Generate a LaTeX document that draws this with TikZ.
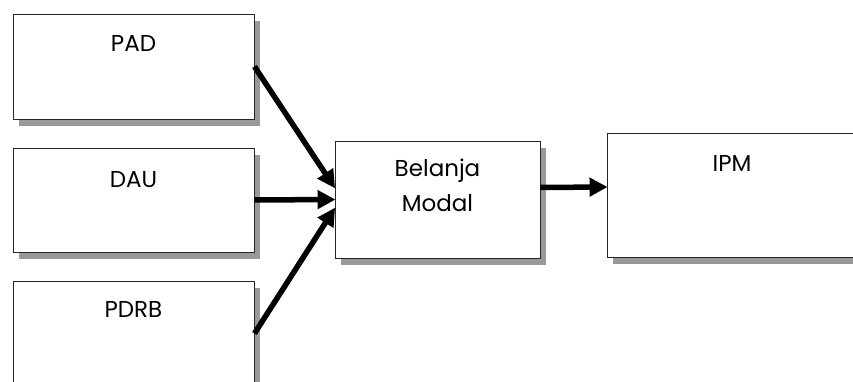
\documentclass[tikz,border=0pt]{standalone}
\usepackage{fontspec}
\setmainfont{Poppins}
\usetikzlibrary{arrows.meta,shadows}
\begin{document}
\begin{tikzpicture}[x=1pt,y=-1pt,
  boxnode/.style={draw=black!85, line width=0.9pt, fill=white, rectangle, inner sep=0pt,
    general shadow={fill=black!40, shadow xshift=6pt, shadow yshift=-7pt}},
  boxtext/.style={anchor=base, font=\fontsize{23}{35}\selectfont, align=center, inner sep=0pt},
  conn/.style={line width=5.5pt, -{Triangle[length=18pt,width=18pt]}, shorten >=-1pt}]
\useasboundingbox (0,0) rectangle (853,382);
\clip (0,0) rectangle (853,382);
\node[boxnode, minimum width=241pt, minimum height=105pt] (pad) at (133.5,66.5) {};
\node[boxnode, minimum width=241pt, minimum height=104pt] (dau) at (133.5,200) {};
\node[boxnode, minimum width=241pt, minimum height=105pt] (pdrb) at (133.5,333.5) {};
\node[boxnode, minimum width=205pt, minimum height=117pt] (bm) at (437.5,199.5) {};
\node[boxnode, minimum width=250pt, minimum height=124pt] (ipm) at (732,195) {};
\node[boxtext] (tpad) at ([yshift=-38pt]pad.north) {PAD};
\node[boxtext] (tdau) at ([yshift=-40pt]dau.north) {DAU};
\node[boxtext] (tpdrb) at ([yshift=-37pt]pdrb.north) {PDRB};
\node[boxtext, anchor=base] (tbm) at ([yshift=-36pt]bm.north) {Belanja};
\node[boxtext, anchor=base] (tbm2) at ([yshift=-71pt]bm.north) {Modal};
\node[boxtext] (tipm) at ([yshift=-39pt]ipm.north) {IPM};
\draw[conn] (pad.east) -- ([yshift=12pt]bm.west);
\draw[conn] (dau.east) -- (bm.west);
\draw[conn] (pdrb.east) -- ([yshift=-9pt]bm.west);
\draw[conn] ([yshift=12pt]bm.east) -- ([yshift=8pt]ipm.west);
\end{tikzpicture}
\end{document}
